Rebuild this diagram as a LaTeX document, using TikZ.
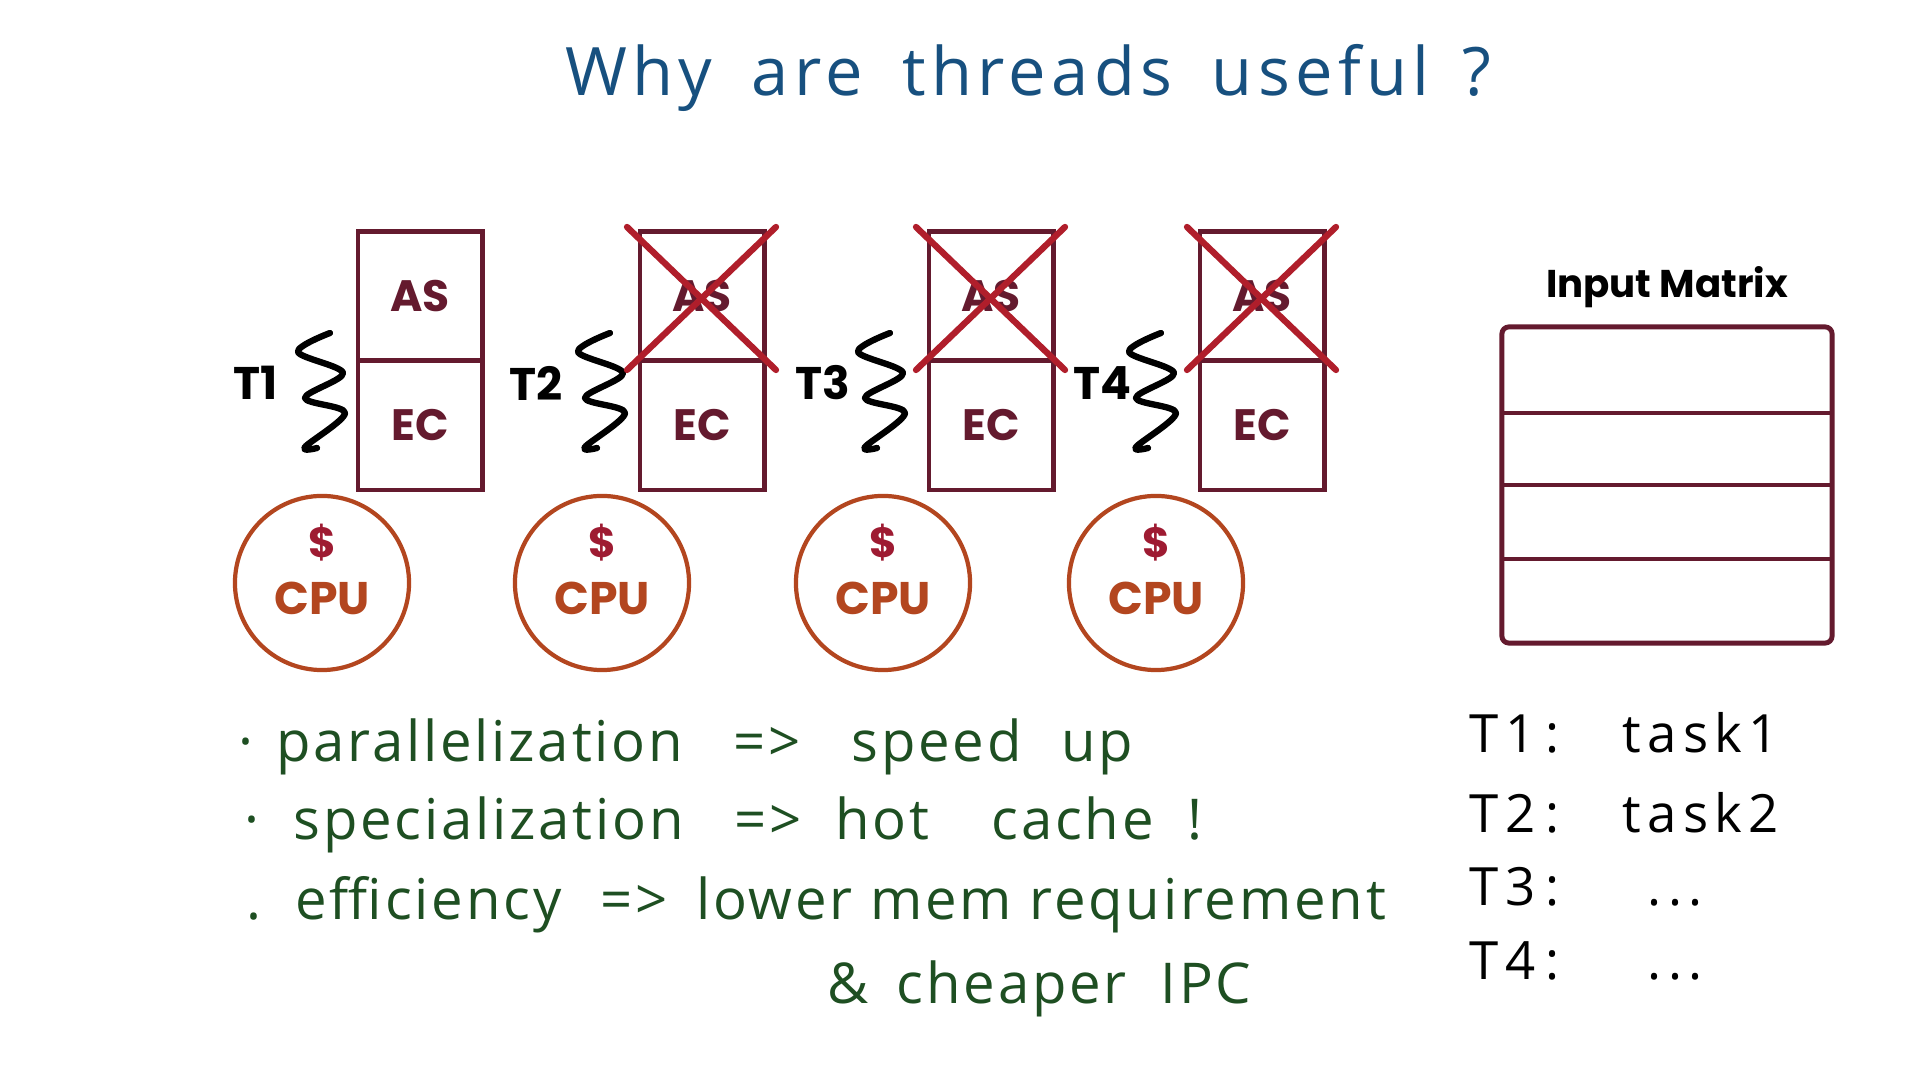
\documentclass[tikz,border=0pt]{standalone}
\usepackage{fontspec}
\setmainfont{Open Sans}
\newfontfamily\geofont{Poppins}
\usepackage{tikz}
\usetikzlibrary{positioning}
\definecolor{Maroon}{HTML}{641A2E}
\definecolor{CrossRed}{HTML}{B01E2B}
\definecolor{Rust}{HTML}{B3461F}
\definecolor{Dollar}{HTML}{9E1B32}
\definecolor{Ink}{HTML}{17507F}
\definecolor{Pen}{HTML}{1E4F22}

\begin{document}
\begin{tikzpicture}[x=0.01cm, y=-0.01cm,
    half/.style={draw=Maroon, line width=1.4pt, minimum width=1.24cm, minimum height=1.29cm, inner sep=0pt, text=Maroon, font=\geofont\bfseries\fontsize{12.5}{14}\selectfont},
    cpu/.style={draw=Rust, line width=1.2pt, circle, minimum size=1.74cm, inner sep=0pt},
    cpulbl/.style={text=Rust, font=\geofont\bfseries\fontsize{13}{15}\selectfont, inner sep=0pt},
    dollar/.style={text=Dollar, font=\geofont\bfseries\fontsize{12}{14}\selectfont, inner sep=0pt},
    tlbl/.style={font=\geofont\bfseries\fontsize{13}{15}\selectfont, inner sep=0pt},
    squig/.style={line width=1.8pt, line cap=round, line join=round},
    cross/.style={CrossRed, line width=1.8pt, line cap=round},
    hand/.style={text=Pen, anchor=base west, inner sep=0pt, font=\addfontfeatures{LetterSpace=5}\fontsize{16}{19}\selectfont},
    note/.style={anchor=base west, inner sep=0pt, font=\addfontfeatures{LetterSpace=12}\fontsize{15}{18}\selectfont}
  ]
    \useasboundingbox[fill=white] (0,0) rectangle (1920,1080);

    \node[text=Ink, anchor=base, inner sep=0pt, font=\addfontfeatures{LetterSpace=8}\fontsize{19}{23}\selectfont] (title) at (1028,96) {Why\hspace{0.25em} are\hspace{0.25em} threads\hspace{0.25em} useful\hspace{0.15em} ?};

    \foreach \i/\x/\c/\t/\s in {1/358/322/256/360, 2/640/602/536/640, 3/929/883/823/920, 4/1200/1156/1102/1191} {
      \node[half] (as\i) at (\x+62,296.5) {AS};
      \node[half] (ec\i) at (\x+62,425.5) {EC};
      \node[tlbl] (t\i) at (\t,383) {T\i};
      \draw[squig, shift={(\s-640,0)}] plot[smooth, tension=0.55] coordinates {(610,333) (578,352) (623,373) (585,398) (625,413) (585,447) (597,448)};
      \node[cpu] (cpu\i) at (\c,583) {};
      \node[dollar] (dol\i) at (\c,543) {\$};
      \node[cpulbl] (cpul\i) at (\c,598) {CPU};
      \ifnum\i>1
        \draw[cross] (\x-13,227) -- (\x+136,370) (\x+136,227) -- (\x-13,370);
      \fi
    }

    \node[font=\geofont\bfseries\fontsize{11}{13}\selectfont, inner sep=0pt] (inlbl) at (1667,287) {Input Matrix};
    \node[draw=Maroon, line width=1.4pt, rounded corners=2pt, minimum width=3.3cm, minimum height=3.16cm, inner sep=0pt] (inmat) at (1667,485) {};
    \foreach \y in {413,485,559}
      \draw[Maroon, line width=1.4pt] (1502,\y) -- (1832,\y);

    \node[hand] (b1) at (238,762) {·\hspace{0.4em}parallelization\hspace{0.9em}=>\hspace{0.9em}speed\hspace{0.7em}up};
    \node[hand] (b2) at (244,840) {·\hspace{0.6em}specialization\hspace{0.9em}=>\hspace{0.6em}hot\hspace{1.1em}cache\hspace{0.6em}!};
    \node[hand] (b3) at (246,920) {.\hspace{0.6em}efficiency\hspace{0.7em}=>\hspace{0.5em}lower mem requirement};
    \node[hand] (b4) at (827,1004) {\&\hspace{0.5em}cheaper\hspace{0.6em}IPC};

    \node[note] (n1) at (1469,753) {T1};
    \node[note] (n2) at (1469,833) {T2};
    \node[note] (n3) at (1469,906) {T3};
    \node[note] (n4) at (1469,980) {T4};
    \node[note] (c1) at (1545,753) {:};
    \node[note] (c2) at (1545,833) {:};
    \node[note] (c3) at (1545,906) {:};
    \node[note] (c4) at (1545,980) {:};
    \node[note] (k1) at (1622,753) {task1};
    \node[note] (k2) at (1622,833) {task2};
    \node[note] (k3) at (1647,906) {...};
    \node[note] (k4) at (1647,980) {...};
  \end{tikzpicture}
\end{document}
